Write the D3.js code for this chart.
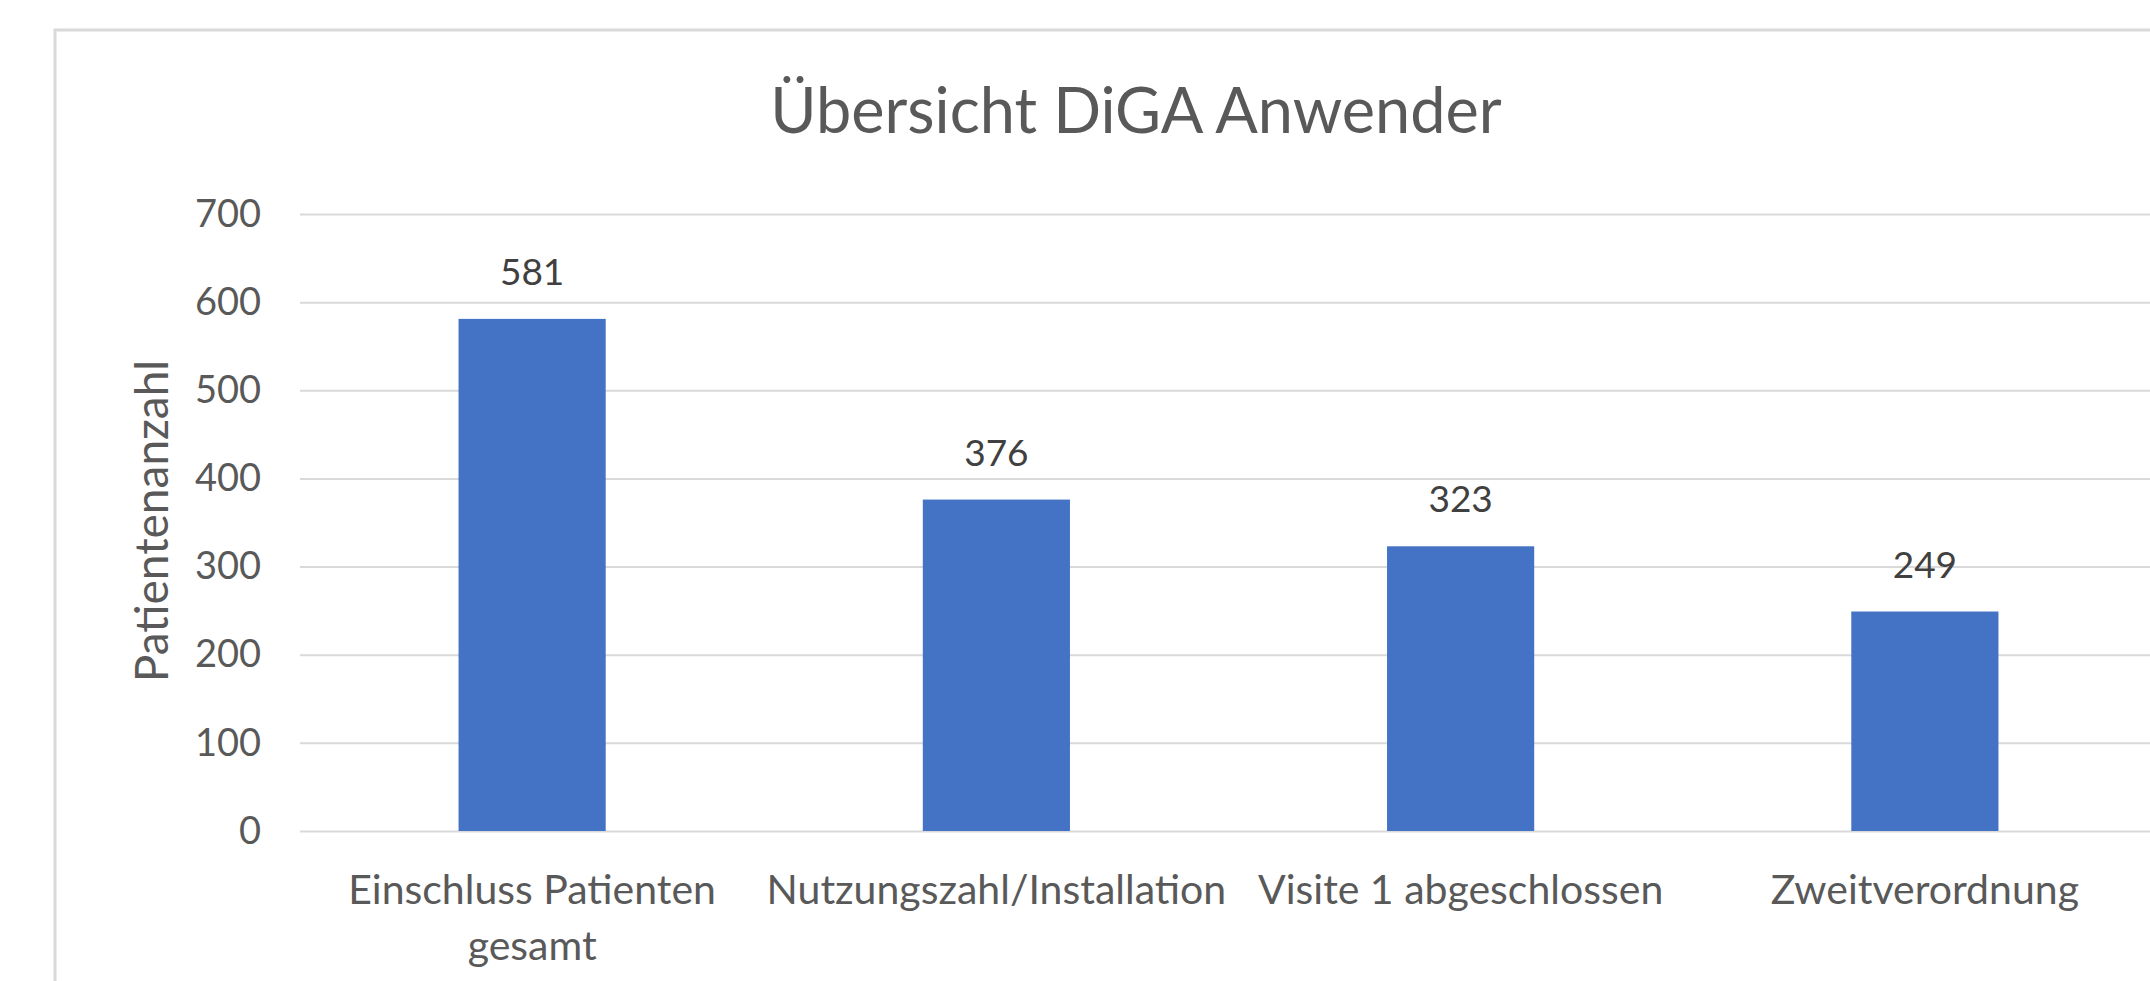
<!DOCTYPE html>
<html>
<head>
<meta charset="utf-8">
<script src="https://cdn.jsdelivr.net/npm/d3@7"></script>
<style>
  html, body { margin: 0; padding: 0; background: #fff; }
  svg { display: block; font-family: Lato, "Open Sans", sans-serif; }
</style>
</head>
<body>
<svg id="chart" width="2150" height="981"></svg>
<script>
// chart values
var title = "Übersicht DiGA Anwender";
var yTitle = "Patientenanzahl";
var categories = ["Einschluss Patienten gesamt", "Nutzungszahl/Installation", "Visite 1 abgeschlossen", "Zweitverordnung"];
var values = [581, 376, 323, 249];
var yTicks = [0, 100, 200, 300, 400, 500, 600, 700];

var W = 2150, H = 981;
var plot = { left: 300, right: 2157, top: 214, bottom: 831 };

var svg = d3.select("#chart");

// chart area frame
svg.append("rect")
    .attr("x", 55).attr("y", 30)
    .attr("width", W).attr("height", H)
    .attr("fill", "#fff")
    .attr("stroke", "#d9d9d9").attr("stroke-width", 3);

var x = d3.scaleBand()
    .domain(categories)
    .range([plot.left, plot.right])
    .paddingInner(0.683)
    .paddingOuter(0.3415);

var y = d3.scaleLinear()
    .domain([0, 700])
    .range([plot.bottom, plot.top]);

// gridlines + tick labels
var yAxis = d3.axisLeft(y).tickValues(yTicks).tickSize(-(W - plot.left)).tickPadding(39);
var gy = svg.append("g")
    .attr("transform", "translate(" + plot.left + ",0)")
    .call(yAxis);
gy.select(".domain").remove();
gy.selectAll(".tick line").attr("stroke", "#d9d9d9").attr("stroke-width", 2);
gy.selectAll(".tick text")
    .attr("fill", "#595959")
    .attr("font-size", 38)
    .attr("font-family", "Lato, sans-serif");

// bars
svg.append("g").selectAll("rect")
    .data(values)
    .enter().append("rect")
    .attr("x", function (d, i) { return x(categories[i]); })
    .attr("y", function (d) { return y(d); })
    .attr("width", x.bandwidth())
    .attr("height", function (d) { return y(0) - y(d); })
    .attr("fill", "#4472c4");

// data labels
svg.append("g").selectAll("text")
    .data(values)
    .enter().append("text")
    .attr("x", function (d, i) { return x(categories[i]) + x.bandwidth() / 2; })
    .attr("y", function (d) { return y(d) - 34; })
    .attr("text-anchor", "middle")
    .attr("fill", "#404040")
    .attr("font-size", 37)
    .text(function (d) { return d; });

// category labels, wrapped like excel does
var maxW = x.step() * 1.04;
var gx = svg.append("g");
categories.forEach(function (c) {
    var t = gx.append("text")
        .attr("text-anchor", "middle")
        .attr("fill", "#595959")
        .attr("font-size", 41);
    var cx = x(c) + x.bandwidth() / 2;
    var words = c.split(" "), line = [], lines = [];
    var probe = t.append("tspan");
    words.forEach(function (w) {
        line.push(w);
        probe.text(line.join(" "));
        if (probe.node().getComputedTextLength() > maxW && line.length > 1) {
            line.pop();
            lines.push(line.join(" "));
            line = [w];
        }
    });
    lines.push(line.join(" "));
    probe.remove();
    lines.forEach(function (l, i) {
        t.append("tspan").attr("x", cx).attr("y", 904 + i * 56).text(l);
    });
});

// y axis title
svg.append("text")
    .attr("transform", "translate(168,521) rotate(-90)")
    .attr("text-anchor", "middle")
    .attr("fill", "#595959")
    .attr("font-size", 46)
    .text(yTitle);

// chart title
svg.append("text")
    .attr("x", 1136).attr("y", 133)
    .attr("text-anchor", "middle")
    .attr("fill", "#595959")
    .attr("font-size", 63)
    .text(title);
</script>
</body>
</html>
